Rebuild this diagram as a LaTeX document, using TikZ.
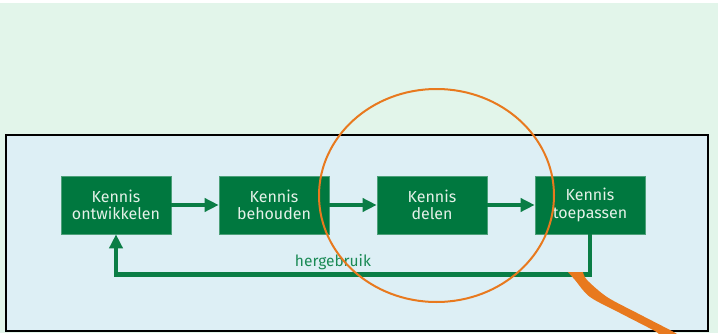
\documentclass[tikz,border=0pt]{standalone}
\usepackage{fontspec}
\setmainfont{Fira Sans}
\usetikzlibrary{arrows.meta}
\definecolor{bggreen}{HTML}{E2F5EA}
\definecolor{panelblue}{HTML}{DDEFF5}
\definecolor{kgreen}{HTML}{00783F}
\definecolor{kline}{HTML}{0A7D45}
\definecolor{ktext}{HTML}{E4F1E8}
\definecolor{hgreen}{HTML}{1A8A55}
\definecolor{korange}{HTML}{E8791E}
\begin{document}
\begin{tikzpicture}[x=1pt,y=1pt,
  kbox/.style={rectangle, fill=kgreen, draw=kgreen!70!white, line width=0.6pt,
    minimum width=110pt, minimum height=58pt, inner sep=0pt,
    text=ktext, align=center, font=\fontsize{16}{17.5}\selectfont},
  flow/.style={draw=kline, line width=4.5pt, -{Triangle[length=14pt,width=13pt]}}]
\useasboundingbox (0,0) rectangle (718,333);
\fill[white] (0,0) rectangle (718,333);
\fill[bggreen] (0,0) rectangle (718,330);
\draw[fill=panelblue, draw=black, line width=1.6pt] (6,2) rectangle (708,198);
\node[kbox] (a) at (116,128) {Kennis\\ontwikkelen};
\node[kbox] (b) at (274,128) {Kennis\\behouden};
\node[kbox] (c) at (432,128) {Kennis\\delen};
\node[kbox] (d) at (590,128) {Kennis\\toepassen};
\draw[flow] (a) -- (b);
\draw[flow] (b) -- (c);
\draw[flow] (c) -- (d);
\draw[flow] (d.south) -- ++(0,-40) -| (a.south);
\node[anchor=base, text=hgreen, font=\fontsize{15.5}{17}\selectfont, inner sep=0pt] (h) at (333,67) {hergebruik};
\draw[korange, line width=2pt] (436.5,137.5) ellipse [x radius=117.5, y radius=106.5];
\fill[korange] plot[smooth] coordinates {(568,61) (575,53) (590,36) (620,20) (653,3) (659,-1)}
  -- plot[smooth] coordinates {(677,-1) (670,3) (637,20) (607,36) (587,53) (583,61)} -- cycle;
\end{tikzpicture}
\end{document}
